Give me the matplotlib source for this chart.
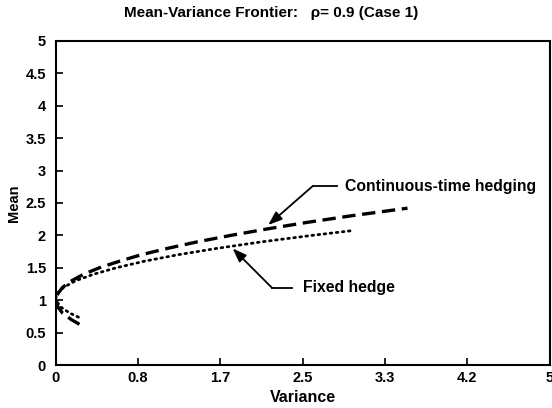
import matplotlib
matplotlib.use("Agg")
import matplotlib.pyplot as plt

plt.rcParams['font.family'] = ['Liberation Sans', 'DejaVu Sans']
plt.rcParams['font.weight'] = 'bold'

# Continuous-time hedging frontier (variance, mean)
cont_mean = [0.63, 0.70, 0.80, 0.90, 1.00, 1.10, 1.20, 1.30, 1.40, 1.50, 1.60,
             1.70, 1.80, 1.90, 2.00, 2.10, 2.20, 2.30, 2.42]
cont_var = [0.24, 0.16, 0.07, 0.02, 0.005, 0.02, 0.07, 0.16, 0.28, 0.44, 0.64,
            0.86, 1.13, 1.43, 1.77, 2.14, 2.54, 2.98, 3.56]

# Fixed hedge frontier (variance, mean)
fix_mean = [0.74, 0.80, 0.90, 1.00, 1.03, 1.10, 1.20, 1.30, 1.40, 1.50, 1.60,
            1.70, 1.80, 1.90, 2.00, 2.07]
fix_var = [0.23, 0.145, 0.046, 0.005, 0.0, 0.013, 0.08, 0.20, 0.38, 0.61, 0.89,
           1.23, 1.63, 2.08, 2.59, 2.98]

xticks = [0, 5/6, 10/6, 2.5, 20/6, 25/6, 5]
xtick_labels = ['0', '0.8', '1.7', '2.5', '3.3', '4.2', '5']
yticks = [0, 0.5, 1, 1.5, 2, 2.5, 3, 3.5, 4, 4.5, 5]
ytick_labels = ['0', '0.5', '1', '1.5', '2', '2.5', '3', '3.5', '4', '4.5', '5']

fig = plt.figure(figsize=(5.52, 4.08), dpi=100)
ax = fig.add_axes([0.101, 0.105, 0.895, 0.795])

ax.plot(cont_var, cont_mean, color='black', lw=2.4, linestyle=(0, (4, 2)))
ax.plot(fix_var, fix_mean, color='black', lw=2.0, linestyle=(0, (0.6, 1.6)),
        dash_capstyle='round')

ax.set_xlim(0, 5)
ax.set_ylim(0, 5)
ax.set_xticks(xticks)
ax.set_xticklabels(xtick_labels)
ax.set_yticks(yticks)
ax.set_yticklabels(ytick_labels)
ax.tick_params(direction='in', length=5, width=1.2, labelsize=10.5)
ax.tick_params(axis='x', pad=4)
ax.tick_params(axis='y', pad=7)
for s in ax.spines.values():
    s.set_linewidth(1.5)

ax.set_xlabel('Variance', fontsize=11.5, fontweight='bold', labelpad=4)
ax.set_ylabel('Mean', fontsize=10.5, fontweight='bold', labelpad=3)
fig.text(271 / 552, 1 - 13 / 408, 'Mean-Variance Frontier:   \u03c1= 0.9 (Case 1)',
         fontsize=11, fontweight='bold', ha='center', va='center')

# annotations
ax.plot([2.60, 2.85], [2.76, 2.76], color='black', lw=1.3)
ax.annotate('', xy=(2.15, 2.16), xytext=(2.60, 2.76),
            arrowprops=dict(arrowstyle='-|>,head_length=0.6,head_width=0.22',
                            color='black', lw=1.3,
                            mutation_scale=14, shrinkA=0, shrinkB=0))
ax.text(2.93, 2.76, 'Continuous-time hedging', fontsize=11.3, fontweight='bold',
        va='center', ha='left')

ax.plot([2.19, 2.39], [1.19, 1.19], color='black', lw=1.3)
ax.annotate('', xy=(1.79, 1.80), xytext=(2.19, 1.19),
            arrowprops=dict(arrowstyle='-|>,head_length=0.6,head_width=0.22',
                            color='black', lw=1.3,
                            mutation_scale=14, shrinkA=0, shrinkB=0))
ax.text(2.50, 1.19, 'Fixed hedge', fontsize=11.3, fontweight='bold',
        va='center', ha='left')

fig.savefig('out.png', dpi=100)
